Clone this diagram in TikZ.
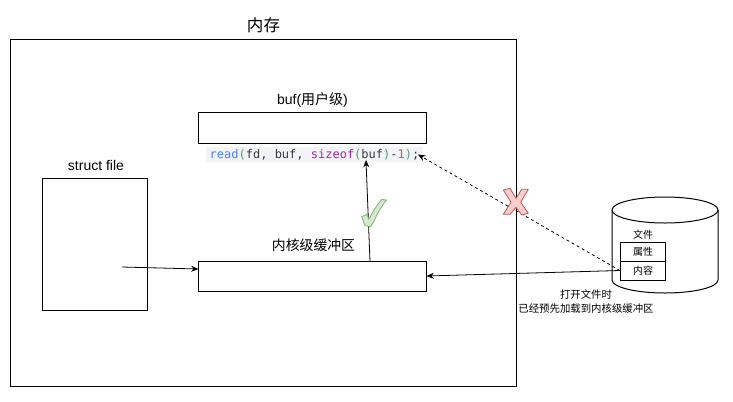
\documentclass[tikz,border=0pt]{standalone}
\usepackage{fontspec}
\setmainfont{Liberation Sans}
\setmonofont{DejaVu Sans Mono}
\newfontfamily\cjk{Noto Sans CJK SC}
\definecolor{codeblue}{HTML}{4F7FF0}
\definecolor{codegreen}{HTML}{4FA06A}
\definecolor{codepurple}{HTML}{A626A4}
\definecolor{codebrown}{HTML}{A8741A}
\definecolor{codetext}{HTML}{383A42}
\definecolor{codeback}{HTML}{F1F3F6}
\definecolor{okfill}{HTML}{D5E8D4}
\definecolor{okline}{HTML}{82B366}
\definecolor{badfill}{HTML}{F8CECC}
\definecolor{badline}{HTML}{B85450}
\tikzset{
  box/.style={draw, rectangle, inner sep=0pt, line width=0.75pt, anchor=north west},
  cell/.style={draw, rectangle, inner sep=0pt, line width=0.75pt, minimum width=45*0.75pt, minimum height=19*0.75pt, font=\cjk\fontsize{7.5pt}{9pt}\selectfont},
  label/.style={align=center, inner sep=0pt, font=\fontsize{10.5pt}{12pt}\selectfont},
  note/.style={align=center, inner sep=0pt, font=\cjk\fontsize{7.8pt}{10.5pt}\selectfont},
  conn/.style={-{Stealth[length=5.5pt,width=4.5pt]}, line width=0.6pt},
}
\usetikzlibrary{arrows.meta}
\begin{document}
\begin{tikzpicture}[x=0.75pt, y=-0.75pt]
\useasboundingbox (0,0) rectangle (733,401);
% memory frame
\node[box, minimum width=506*0.75pt, minimum height=347*0.75pt] (mem) at (10,39) {};
\node[inner sep=0pt, font=\cjk\fontsize{12.4pt}{14pt}\selectfont] (memlabel) at (263.5,25) {内存};
% boxes
\node[box, minimum width=105*0.75pt, minimum height=132*0.75pt] (file) at (42,178) {};
\node[label] (filelabel) at (96,165) {struct file};
\node[box, minimum width=228*0.75pt, minimum height=31*0.75pt] (buf) at (198,112) {};
\node[label] (buflabel) at (312.5,100) {buf({\cjk 用户级})};
\node[box, minimum width=228*0.75pt, minimum height=30*0.75pt] (kbuf) at (198,261) {};
\node[label, font=\cjk\fontsize{10.4pt}{12pt}\selectfont] (kbuflabel) at (313.5,245.5) {内核级缓冲区};
% code line
\node[fill=codeback, inner xsep=2.5pt, inner ysep=1.5pt, font=\ttfamily\fontsize{9pt}{11pt}\selectfont, text=codetext] (code) at (314.5,154.5)
  {\textcolor{codeblue}{read}\textcolor{codegreen}{(}fd, buf, \textcolor{codepurple}{sizeof}\textcolor{codegreen}{(}buf\textcolor{codegreen}{)}-\textcolor{codebrown}{1}\textcolor{codegreen}{)};};
% disk
\draw[line width=0.75pt, fill=white] (612,210) -- (612,280) arc[start angle=180, end angle=0, x radius=53, y radius=13] -- (718,210);
\draw[line width=0.75pt, fill=white] (665,210) ellipse[x radius=53, y radius=13];
\node[inner sep=0pt, font=\cjk\fontsize{7.5pt}{9pt}\selectfont] (disklabel) at (643,234.5) {文件};
\node[cell] (attr) at (643,251.5) {属性};
\node[cell] (content) at (643,270.5) {内容};
\node[note] (opennote) at (586,301.5) {打开文件时\\已经预先加载到内核级缓冲区};
% connectors
\coordinate (filestart) at (122,267);
\coordinate (kbufin) at (198.5,269);
\coordinate (kbufup) at (370,261.5);
\coordinate (codein) at (366,160);
\coordinate (codeend) at (418,154.5);
\coordinate (kbufout) at (426.5,276);
\draw[conn] (filestart) -- (kbufin);
\draw[conn] (kbufup) -- (codein);
\draw[conn] (content.west) -- (kbufout);
\draw[conn, dash pattern=on 2.2pt off 2.2pt] (content.west) -- (codeend);
% marks
\draw[draw=okline, fill=okfill, line width=0.6pt, line join=round]
  (361.7,216.7) -- (366.7,214.3) -- (369,219.3) .. controls (373,211) and (377,205) .. (381.7,199.5)
  -- (386.5,200) .. controls (381,207) and (377,214) .. (373.8,221.7) -- (370.5,226.7) -- (365,225.5) -- cycle;
\draw[draw=badline, fill=badfill, line width=0.6pt, line join=round]
  (503.3,190) -- (510,188.3) -- (516,198.3) -- (521.7,189.3) -- (528.3,189.3) -- (520.7,202.3) -- (528.3,213.3)
  -- (521.7,215) -- (516,207.3) -- (510,214.3) -- (503.3,214.3) -- (511,202.3) -- cycle;
\end{tikzpicture}
\end{document}
